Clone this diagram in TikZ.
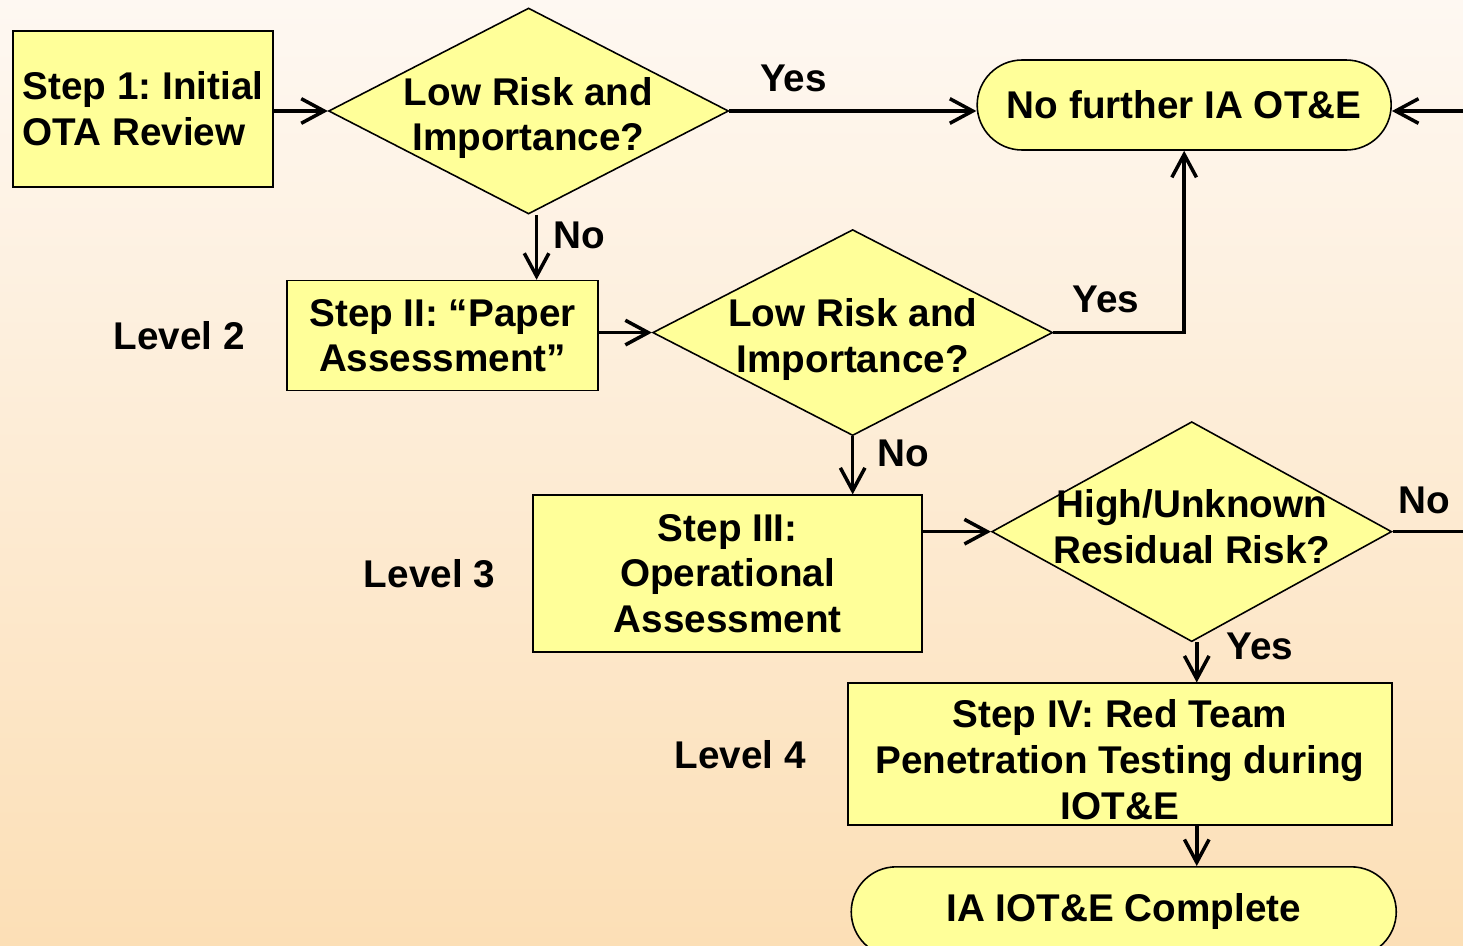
\documentclass[tikz,border=0pt]{standalone}
\usepackage{fontspec}
\setmainfont{Liberation Sans}
\usetikzlibrary{positioning,shapes,arrows.meta}
\definecolor{boxyellow}{RGB}{255,255,153}
\definecolor{bgtop}{RGB}{254,248,242}
\definecolor{bgbottom}{RGB}{252,223,182}
\tikzset{
    stepbox/.style={rectangle, draw=black, fill=boxyellow, line width=0.9pt, align=center, inner sep=0pt},
    decision/.style={diamond, aspect=2, draw=black, fill=boxyellow, line width=0.9pt, minimum width=8cm, minimum height=4.12cm, align=center, inner xsep=-1.2cm, inner ysep=0pt},
    terminal/.style={rectangle, rounded corners=0.9cm, draw=black, fill=boxyellow, line width=0.9pt, minimum height=1.8cm, align=center},
    level/.style={inner sep=0pt},
    arr/.style={line width=2pt,-{Straight Barb[length=13pt,width=14pt]}}
    }

\begin{document}
\begin{tikzpicture}[font=\fontsize{22}{26}\selectfont\bfseries\frenchspacing]
        \clip (0,0) rectangle (29.26,-18.9);
        \shade[top color=bgtop, bottom color=bgbottom] (0,0) rectangle (29.26,-18.9);

        \node[stepbox, minimum width=5.2cm, minimum height=3.12cm, align=left] (step1) at (2.86,-2.18) {Step 1: Initial\\OTA Review};
        \node[decision, text height=50pt, right=1.08cm of step1, yshift=-0.04cm] (dec1) {Low Risk and\\Importance?};
        \node[terminal, minimum width=8.28cm, right=4.94cm of dec1, yshift=0.12cm] (term1) {No further IA OT\&E};
        \node[stepbox, minimum width=6.22cm, minimum height=2.2cm, below=1.3cm of dec1, xshift=-1.72cm] (step2) {Step II: “Paper\\Assessment”};
        \node[level, left=0.82cm of step2] (lev2) {Level 2};
        \node[decision, text height=50pt, right=1.06cm of step2, yshift=0.06cm] (dec2) {Low Risk and\\Importance?};
        \node[stepbox, minimum width=7.78cm, minimum height=3.14cm, below=1.16cm of dec2, xshift=-2.5cm] (step3) {Step III:\\Operational\\Assessment};
        \node[level, left=0.74cm of step3] (lev3) {Level 3};
        \node[decision, text depth=6pt, minimum height=4.4cm, right=1.36cm of step3, yshift=0.84cm] (dec3) {High/Unknown\\Residual Risk?};
        \node[stepbox, text height=74pt, minimum width=10.88cm, minimum height=2.84cm, below=0.8cm of dec3, xshift=-1.44cm] (step4) {Step IV: Red Team\\Penetration Testing during\\IOT\&E};
        \node[level, left=0.82cm of step4] (lev4) {Level 4};
        \node[terminal, minimum width=10.9cm, below=0.8cm of step4, xshift=0.08cm] (term2) {IA IOT\&E Complete};

        \coordinate (rightin) at (29.26,-2.22);
        \coordinate (rightout) at (29.26,-10.8);

        \draw[arr] (step1.east |- dec1.west) -- (dec1.west);
        \draw[arr] (dec1.east) -- (dec1.east -| term1.west) node[pos=0.26,above=0.24cm]{Yes};
        \draw[arr] (rightin) -- (rightin -| term1.east);
        \draw[arr] ([xshift=0.16cm]dec1.south) -- ([xshift=0.16cm]dec1.south |- step2.north) node[pos=0.32,right,xshift=0.18cm]{No};
        \draw[arr] (step2.east |- dec2.west) -- (dec2.west);
        \draw[arr] (dec2.east) -| (term1.south) node[pos=0.2,above=0.24cm]{Yes};
        \draw[arr] (dec2.south) -- (dec2.south |- step3.north) node[pos=0.3,right,xshift=0.34cm]{No};
        \draw[arr] (step3.east |- dec3.west) -- (dec3.west);
        \draw[line width=2pt] (dec3.east) -- (dec3.east -| rightout) node[pos=0.45,above=0.2cm]{No};
        \draw[arr] ([xshift=0.1cm]dec3.south) -- ([xshift=0.1cm]dec3.south |- step4.north) node[pos=0.1,right,xshift=0.44cm]{Yes};
        \draw[arr] ([xshift=0.1cm]dec3.south |- step4.south) -- ([xshift=0.1cm]dec3.south |- term2.north);
    \end{tikzpicture}
\end{document}
